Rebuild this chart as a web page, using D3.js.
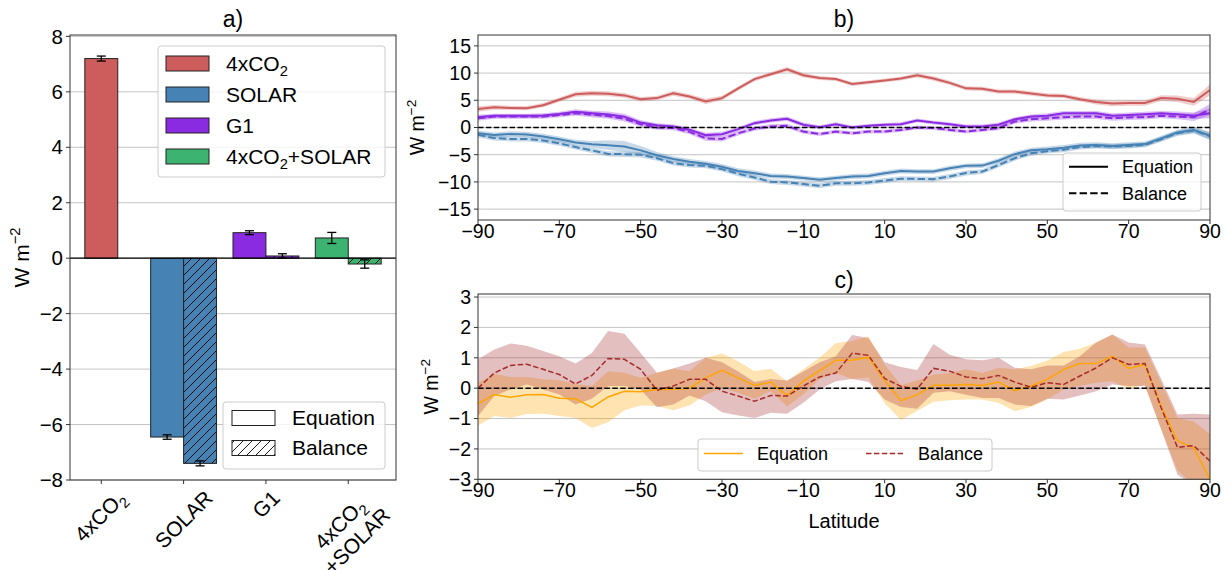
<!DOCTYPE html>
<html><head><meta charset="utf-8">
<script src="https://cdn.jsdelivr.net/npm/d3@7"></script>
<style>
body{margin:0;background:#fff}
svg{display:block}
text{font-family:"Liberation Sans",Arial,Helvetica,sans-serif;fill:#000}
</style>
</head><body>
<svg id="chart" width="1231" height="570"></svg>
<script>
// ---------------- DATA ----------------
// panel a
const barCategories = ["4xCO2", "SOLAR", "G1", "4xCO2+SOLAR"];
const barEquation = [7.2, -6.45, 0.92, 0.73];
const barEquationErr = [0.09, 0.08, 0.07, 0.2];
const barBalance = [null, -7.4, 0.08, -0.21];
const barBalanceErr = [null, 0.09, 0.08, 0.15];
const barYTicks = [-8, -6, -4, -2, 0, 2, 4, 6, 8];

// panels b and c share latitude
const latitude = [-90,-86,-82,-78,-74,-70,-66,-62,-58,-54,-50,-46,-42,-38,-34,-30,
  -26,-22,-18,-14,-10,-6,-2,2,6,10,14,18,22,26,30,
  34,38,42,46,50,54,58,62,66,70,74,78,82,86,90];
const latTicks = [-90,-70,-50,-30,-10,10,30,50,70,90];

// panel b
const co2Equation = [3.4,3.7,3.6,3.55,4.1,5.1,6.1,6.3,6.2,5.9,5.2,5.4,6.3,5.7,4.8,5.4,
  7.2,8.9,9.8,10.7,9.6,9.1,8.9,8.0,8.3,8.65,9.0,9.6,9.0,8.2,7.2,
  7.1,6.6,6.6,6.25,5.9,5.8,5.2,4.7,4.4,4.5,4.5,5.4,5.3,4.7,6.9];
const co2EquationSpread = [0.5,0.45,0.4,0.4,0.4,0.4,0.45,0.45,0.45,0.45,0.4,0.4,0.45,0.4,0.5,0.45,
  0.4,0.4,0.4,0.4,0.4,0.35,0.35,0.35,0.35,0.35,0.35,0.4,0.4,0.4,0.4,
  0.4,0.4,0.4,0.4,0.4,0.4,0.4,0.45,0.5,0.5,0.5,0.55,0.6,0.7,1.0];
const g1Equation = [1.9,2.15,2.15,2.15,2.2,2.5,2.9,2.6,2.4,2.0,0.9,0.4,0.2,-0.4,-1.4,-1.25,
  -0.3,0.8,1.3,1.6,0.5,0.05,0.6,0.0,0.3,0.5,0.6,1.3,0.9,0.6,0.2,
  0.2,0.5,1.5,2.0,2.15,2.6,2.6,2.6,2.15,2.3,2.45,2.6,2.45,2.15,2.6];
const g1EquationSpread = [0.45,0.4,0.4,0.4,0.4,0.4,0.45,0.5,0.55,0.55,0.45,0.4,0.4,0.4,0.45,0.45,
  0.4,0.4,0.4,0.4,0.4,0.35,0.35,0.35,0.35,0.35,0.35,0.35,0.35,0.35,0.35,
  0.35,0.4,0.4,0.4,0.45,0.45,0.45,0.45,0.45,0.45,0.45,0.45,0.5,0.6,0.9];
const g1Balance = [1.7,2.0,2.0,2.0,2.0,2.3,2.6,2.4,2.1,1.6,0.6,0.0,-0.1,-0.8,-2.0,-2.1,
  -1.05,-0.2,0.2,0.3,-0.75,-1.2,-0.75,-1.05,-0.75,-0.75,-0.45,0.0,-0.1,-0.45,-0.75,
  -0.45,-0.1,1.1,1.5,1.7,1.9,2.0,2.0,1.7,1.85,1.9,2.15,2.0,1.9,3.3];
const g1BalanceSpread = [0.45,0.4,0.4,0.4,0.4,0.4,0.45,0.5,0.5,0.5,0.45,0.4,0.4,0.45,0.45,0.45,
  0.4,0.4,0.4,0.4,0.4,0.35,0.35,0.35,0.35,0.35,0.35,0.35,0.35,0.35,0.35,
  0.35,0.4,0.4,0.4,0.45,0.45,0.45,0.45,0.45,0.45,0.45,0.45,0.5,0.7,1.0];
const solarEquation = [-1.05,-1.4,-1.2,-1.3,-1.65,-2.15,-2.75,-3.1,-3.25,-3.5,-4.2,-5.1,-5.8,-6.3,-6.65,-7.2,
  -8.0,-8.4,-8.9,-9.0,-9.3,-9.6,-9.3,-9.0,-8.9,-8.4,-8.0,-8.1,-8.1,-7.5,-7.05,
  -7.0,-6.1,-4.9,-4.2,-4.0,-3.7,-3.3,-3.2,-3.4,-3.2,-3.05,-2.0,-0.9,-0.45,-1.5];
const solarEquationSpread = [0.5,0.5,0.5,0.5,0.5,0.5,0.5,0.6,0.9,1.0,0.8,0.6,0.5,0.5,0.5,0.5,
  0.5,0.5,0.45,0.45,0.45,0.45,0.45,0.45,0.45,0.45,0.45,0.45,0.45,0.45,0.45,
  0.45,0.45,0.5,0.5,0.5,0.5,0.5,0.5,0.5,0.5,0.5,0.5,0.5,0.55,0.7];
const solarBalance = [-1.35,-1.95,-2.1,-2.1,-2.4,-2.9,-3.6,-4.2,-4.85,-4.9,-5.0,-5.65,-6.55,-6.9,-7.05,-7.65,
  -8.5,-9.2,-9.95,-10.1,-10.4,-10.7,-10.25,-10.25,-10.1,-9.75,-9.4,-9.45,-9.5,-9.0,-8.35,
  -8.1,-6.9,-5.65,-4.75,-4.35,-4.1,-3.6,-3.4,-3.5,-3.4,-3.2,-2.15,-1.05,-0.55,-1.6];
const solarBalanceSpread = [0.5,0.45,0.45,0.45,0.45,0.45,0.45,0.5,0.5,0.5,0.5,0.45,0.45,0.45,0.45,0.45,
  0.45,0.45,0.45,0.45,0.45,0.45,0.45,0.45,0.45,0.45,0.45,0.45,0.45,0.45,0.45,
  0.45,0.45,0.45,0.45,0.45,0.45,0.45,0.45,0.45,0.45,0.45,0.45,0.5,0.55,0.7];
const bYTicks = [-15, -10, -5, 0, 5, 10, 15];

// panel c
const diffEquation = [-0.52,-0.21,-0.3,-0.22,-0.21,-0.33,-0.35,-0.63,-0.29,-0.1,-0.12,-0.04,-0.04,0.0,0.34,0.59,
  0.34,0.09,0.2,-0.24,0.23,0.58,0.92,0.92,1.02,0.25,-0.41,-0.22,0.1,0.1,0.12,
  0.09,0.2,-0.08,0.07,0.29,0.62,0.81,0.81,1.05,0.65,0.78,-0.6,-1.73,-1.97,-3.0];
const diffEquationUpper = [0.18,0.47,0.37,0.37,0.29,0.26,0.14,0.07,0.56,0.51,0.34,0.51,0.65,0.56,1.0,1.14,
  0.89,0.56,0.64,0.23,0.62,1.0,1.49,1.55,1.71,0.78,0.1,0.25,0.45,0.5,0.62,
  0.5,0.67,0.62,0.73,0.91,1.19,1.3,1.5,1.77,1.34,1.34,0.18,-0.98,-1.1,-1.5];
const diffEquationLower = [-1.23,-0.92,-0.98,-0.85,-0.84,-0.92,-0.98,-1.31,-1.12,-0.73,-0.57,-0.59,-0.73,-0.57,-0.21,0.0,
  -0.15,-0.35,-0.1,-0.6,-0.2,0.3,0.5,0.3,0.35,-0.5,-1.05,-0.75,-0.45,-0.4,-0.37,
  -0.37,-0.48,-0.76,-0.62,-0.37,-0.04,0.07,0.18,0.23,-0.04,0.12,-1.36,-2.7,-3.2,-3.3];
const diffBalance = [0.0,0.5,0.75,0.79,0.62,0.45,0.14,0.42,0.98,0.95,0.62,-0.07,0.07,0.29,0.29,-0.1,
  -0.26,-0.43,-0.24,-0.26,0.07,0.37,0.5,1.15,1.08,0.32,0.06,-0.03,0.65,0.56,0.37,
  0.31,0.42,0.2,0.03,0.18,0.12,0.4,0.67,1.0,0.78,0.81,-0.65,-1.95,-1.89,-2.4];
const diffBalanceUpper = [0.95,1.27,1.47,1.4,1.22,1.05,0.81,1.16,1.88,1.79,1.16,0.51,0.65,0.81,1.0,0.85,
  0.55,0.2,0.3,0.25,0.55,0.85,1.05,1.75,1.65,0.85,0.7,0.6,1.45,1.1,0.95,
  0.92,1.0,0.67,0.62,0.75,0.75,1.05,1.5,1.77,1.5,1.44,0.3,-0.87,-0.84,-0.87];
const diffBalanceLower = [-0.92,-0.26,-0.04,0.12,-0.04,-0.21,-0.54,-0.35,0.07,0.07,-0.04,-0.63,-0.54,-0.24,-0.43,-0.79,
  -0.9,-0.98,-0.81,-0.84,-0.48,-0.04,0.23,0.3,0.2,-0.37,-0.62,-0.68,-0.15,-0.1,-0.22,
  -0.32,-0.32,-0.54,-0.59,-0.35,-0.37,-0.24,-0.1,0.12,0.07,0.07,-1.36,-2.85,-3.2,-3.2];
const cYTicks = [-3, -2, -1, 0, 1, 2, 3];

// ---------------- STYLE ----------------
const colors = {"4xCO2": "#cd5c5c", "SOLAR": "#4682b4", "G1": "#8a2be2", "4xCO2+SOLAR": "#3cb371"};
const orange = "#ffa500", brown = "#a52a2a";
const frameColor = "#333", gridColor = "#c4c4c4";
const minus = v => (v < 0 ? "\u2212" + Math.abs(v) : String(v));

const svg = d3.select("#chart");
const defs = svg.append("defs");
const hatch = defs.append("pattern").attr("id", "hatch").attr("patternUnits", "userSpaceOnUse")
  .attr("width", 9).attr("height", 9);
hatch.append("path").attr("d", "M-2,2 L2,-2 M0,9 L9,0 M7,11 L11,7")
  .attr("stroke", "#000").attr("stroke-width", 0.9);

// helper: label with CO2 subscripts
function richText(sel, str, fs) {
  const parts = str.split("CO2");
  let shift = 0;
  parts.forEach((p, i) => {
    if (p) { sel.append("tspan").attr("dy", shift ? -shift : null).text(p); shift = 0; }
    if (i < parts.length - 1) {
      sel.append("tspan").attr("dy", shift ? -shift : null).text("CO");
      shift = fs * 0.25;
      sel.append("tspan").attr("font-size", fs * 0.7).attr("dy", shift).text("2");
    }
  });
}
function yLabel(g, x, y, fs) {
  const t = g.append("text").attr("transform", `translate(${x},${y}) rotate(-90)`)
    .attr("text-anchor", "middle").attr("font-size", fs);
  t.append("tspan").text("W m");
  t.append("tspan").attr("font-size", fs * 0.7).attr("dy", -fs * 0.42).text("\u22122");
}
function yAxisGrid(g, y, ticks, x0, x1) {
  ticks.forEach(v => {
    g.append("line").attr("x1", x0).attr("x2", x1).attr("y1", y(v)).attr("y2", y(v))
      .attr("stroke", gridColor).attr("stroke-width", 1);
  });
}
function yAxisTicks(g, y, ticks, x0, fs) {
  ticks.forEach(v => {
    g.append("line").attr("x1", x0 - 4).attr("x2", x0).attr("y1", y(v)).attr("y2", y(v))
      .attr("stroke", frameColor).attr("stroke-width", 1);
    g.append("text").attr("x", x0 - 7).attr("y", y(v)).attr("dy", "0.35em")
      .attr("text-anchor", "end").attr("font-size", fs).text(minus(v));
  });
}
function frame(g, x0, x1, y0, y1) {
  g.append("rect").attr("x", x0).attr("y", y0).attr("width", x1 - x0).attr("height", y1 - y0)
    .attr("fill", "none").attr("stroke", frameColor).attr("stroke-width", 1);
}

// ---------------- PANEL A ----------------
(function () {
  const L = 70, R = 396, T = 35, B = 480, fs = 20.5, lfs = 21;
  const g = svg.append("g");
  const x = d3.scaleLinear().domain([-0.38, 3.58]).range([L, R]);
  const y = d3.scaleLinear().domain([-8, 8.05]).range([B, T]);
  yAxisGrid(g, y, barYTicks, L, R);
  const w = 0.4;
  barCategories.forEach((c, i) => {
    const eqX0 = i === 0 ? i - w / 2 : i - w;
    const bars = [{x0: eqX0, v: barEquation[i], e: barEquationErr[i], h: false}];
    if (barBalance[i] !== null) bars.push({x0: i, v: barBalance[i], e: barBalanceErr[i], h: true});
    bars.forEach(b => {
      const rx = x(b.x0), rw = x(b.x0 + w) - x(b.x0);
      const ry = y(Math.max(0, b.v)), rh = Math.abs(y(b.v) - y(0));
      g.append("rect").attr("x", rx).attr("y", ry).attr("width", rw).attr("height", rh)
        .attr("fill", colors[c]);
      if (b.h) g.append("rect").attr("x", rx).attr("y", ry).attr("width", rw).attr("height", rh)
        .attr("fill", "url(#hatch)");
      g.append("rect").attr("x", rx).attr("y", ry).attr("width", rw).attr("height", rh)
        .attr("fill", "none").attr("stroke", "#222").attr("stroke-width", 1);
      const cx = x(b.x0 + w / 2);
      g.append("line").attr("x1", cx).attr("x2", cx).attr("y1", y(b.v - b.e)).attr("y2", y(b.v + b.e))
        .attr("stroke", "#000").attr("stroke-width", 1.3);
      [b.v - b.e, b.v + b.e].forEach(v => g.append("line").attr("x1", cx - 4.5).attr("x2", cx + 4.5)
        .attr("y1", y(v)).attr("y2", y(v)).attr("stroke", "#000").attr("stroke-width", 1.3));
    });
  });
  g.append("line").attr("x1", L).attr("x2", R).attr("y1", y(0)).attr("y2", y(0))
    .attr("stroke", "#000").attr("stroke-width", 1.3);
  frame(g, L, R, T, B);
  yAxisTicks(g, y, barYTicks, L, fs);
  // x ticks and rotated labels
  barCategories.forEach((c, i) => {
    g.append("line").attr("x1", x(i)).attr("x2", x(i)).attr("y1", B).attr("y2", B + 4)
      .attr("stroke", frameColor);
    const lab = g.append("g");
    const lines = c === "4xCO2+SOLAR" ? ["4xCO2", "+SOLAR"] : [c];
    const t = lab.append("text").attr("font-size", lfs).attr("text-anchor", "middle");
    lines.forEach((ln, k) => {
      const tl = t.append("tspan").attr("x", 0).attr("y", k * lfs * 1.15);
      richText(tl, ln, lfs);
    });
    const bb = t.node().getBBox();
    const cx = bb.x + bb.width / 2, cy = bb.y + bb.height / 2;
    const half = (bb.width + bb.height) / (2 * Math.SQRT2);
    lab.attr("transform", `translate(${x(i)},${B + 6 + half}) rotate(-45) translate(${-cx},${-cy})`);
  });
  yLabel(g, 29, (T + B) / 2, lfs);
  g.append("text").attr("x", (L + R) / 2).attr("y", 27).attr("text-anchor", "middle")
    .attr("font-size", 23).text("a)");
  // legend 1
  const lg = g.append("g");
  lg.append("rect").attr("x", 158).attr("y", 46).attr("width", 227).attr("height", 131).attr("rx", 3)
    .attr("fill", "#fff").attr("fill-opacity", 0.8).attr("stroke", "#ccc");
  barCategories.forEach((c, i) => {
    const yy = 63.5 + i * 31;
    lg.append("rect").attr("x", 166).attr("y", yy - 7.5).attr("width", 43).attr("height", 15)
      .attr("fill", colors[c]).attr("stroke", "#222").attr("stroke-width", 1);
    const t = lg.append("text").attr("x", 226).attr("y", yy).attr("dy", "0.35em").attr("font-size", lfs);
    richText(t, c, lfs);
  });
  // legend 2
  const lg2 = g.append("g");
  lg2.append("rect").attr("x", 223).attr("y", 402).attr("width", 162).attr("height", 67).attr("rx", 3)
    .attr("fill", "#fff").attr("fill-opacity", 0.8).attr("stroke", "#ccc");
  [["Equation", false], ["Balance", true]].forEach(([name, h], i) => {
    const yy = 418 + i * 30;
    lg2.append("rect").attr("x", 232).attr("y", yy - 7.5).attr("width", 43).attr("height", 15)
      .attr("fill", h ? "url(#hatch)" : "#fff").attr("stroke", "#222").attr("stroke-width", 1);
    lg2.append("text").attr("x", 292).attr("y", yy).attr("dy", "0.35em").attr("font-size", lfs).text(name);
  });
})();

// ---------------- PANELS B and C common ----------------
const PL = 478, PR = 1210;
const xLat = d3.scaleLinear().domain([-90, 90]).range([PL, PR]);
function xLatAxis(g, B, fs) {
  latTicks.forEach(v => {
    g.append("line").attr("x1", xLat(v)).attr("x2", xLat(v)).attr("y1", B).attr("y2", B + 4)
      .attr("stroke", frameColor);
    g.append("text").attr("x", xLat(v)).attr("y", B + 18).attr("text-anchor", "middle")
      .attr("font-size", fs).text(minus(v));
  });
}

// ---------------- PANEL B ----------------
(function () {
  const T = 35, B = 220, fs = 19.5;
  const g = svg.append("g");
  const y = d3.scaleLinear().domain([-17, 17]).range([B, T]);
  defs.append("clipPath").attr("id", "clipB").append("rect")
    .attr("x", PL).attr("y", T).attr("width", PR - PL).attr("height", B - T);
  yAxisGrid(g, y, bYTicks, PL, PR);
  const series = [
    {v: co2Equation, s: co2EquationSpread, c: colors["4xCO2"], dash: null},
    {v: solarEquation, s: solarEquationSpread, c: colors["SOLAR"], dash: null},
    {v: solarBalance, s: solarBalanceSpread, c: colors["SOLAR"], dash: "7.4,3.2"},
    {v: g1Equation, s: g1EquationSpread, c: colors["G1"], dash: null},
    {v: g1Balance, s: g1BalanceSpread, c: colors["G1"], dash: "7.4,3.2"}
  ];
  const pg = g.append("g").attr("clip-path", "url(#clipB)");
  series.forEach(sr => {
    const area = d3.area().x((d, i) => xLat(latitude[i]))
      .y0((d, i) => y(sr.v[i] - sr.s[i])).y1((d, i) => y(sr.v[i] + sr.s[i]));
    pg.append("path").attr("d", area(sr.v)).attr("fill", sr.c).attr("fill-opacity", 0.3);
  });
  series.forEach(sr => {
    const line = d3.line().x((d, i) => xLat(latitude[i])).y(d => y(d));
    pg.append("path").attr("d", line(sr.v)).attr("fill", "none").attr("stroke", sr.c)
      .attr("stroke-width", 2).attr("stroke-dasharray", sr.dash);
  });
  pg.append("line").attr("x1", PL).attr("x2", PR).attr("y1", y(0)).attr("y2", y(0))
    .attr("stroke", "#000").attr("stroke-width", 1.5).attr("stroke-dasharray", "5.5,2.4");
  frame(g, PL, PR, T, B);
  yAxisTicks(g, y, bYTicks, PL, fs);
  xLatAxis(g, B, fs);
  yLabel(g, 424, (T + B) / 2, fs);
  g.append("text").attr("x", (PL + PR) / 2).attr("y", 27).attr("text-anchor", "middle")
    .attr("font-size", 23).text("b)");
  const lg = g.append("g");
  lg.append("rect").attr("x", 1063).attr("y", 153).attr("width", 138).attr("height", 58).attr("rx", 3)
    .attr("fill", "#fff").attr("fill-opacity", 0.8).attr("stroke", "#ccc");
  [["Equation", null], ["Balance", "7.4,3.2"]].forEach(([name, dash], i) => {
    const yy = 166.7 + i * 26.6;
    lg.append("line").attr("x1", 1069).attr("x2", 1108).attr("y1", yy).attr("y2", yy)
      .attr("stroke", "#000").attr("stroke-width", 2).attr("stroke-dasharray", dash);
    lg.append("text").attr("x", 1122).attr("y", yy).attr("dy", "0.35em").attr("font-size", 18).text(name);
  });
})();

// ---------------- PANEL C ----------------
(function () {
  const T = 294, B = 479.3, fs = 19.5;
  const g = svg.append("g");
  const y = d3.scaleLinear().domain([-3, 3.1]).range([B, T]);
  defs.append("clipPath").attr("id", "clipC").append("rect")
    .attr("x", PL).attr("y", T).attr("width", PR - PL).attr("height", B - T);
  yAxisGrid(g, y, cYTicks, PL, PR);
  const pg = g.append("g").attr("clip-path", "url(#clipC)");
  const areaE = d3.area().x((d, i) => xLat(latitude[i]))
    .y0((d, i) => y(diffEquationLower[i])).y1((d, i) => y(diffEquationUpper[i]));
  const areaB = d3.area().x((d, i) => xLat(latitude[i]))
    .y0((d, i) => y(diffBalanceLower[i])).y1((d, i) => y(diffBalanceUpper[i]));
  pg.append("path").attr("d", areaE(latitude)).attr("fill", orange).attr("fill-opacity", 0.3);
  pg.append("path").attr("d", areaB(latitude)).attr("fill", brown).attr("fill-opacity", 0.3);
  const line = d3.line().x((d, i) => xLat(latitude[i])).y(d => y(d));
  pg.append("path").attr("d", line(diffEquation)).attr("fill", "none").attr("stroke", orange)
    .attr("stroke-width", 1.5);
  pg.append("path").attr("d", line(diffBalance)).attr("fill", "none").attr("stroke", brown)
    .attr("stroke-width", 1.5).attr("stroke-dasharray", "5.5,2.4");
  pg.append("line").attr("x1", PL).attr("x2", PR).attr("y1", y(0)).attr("y2", y(0))
    .attr("stroke", "#000").attr("stroke-width", 1.5).attr("stroke-dasharray", "5.5,2.4");
  frame(g, PL, PR, T, B);
  yAxisTicks(g, y, cYTicks, PL, fs);
  xLatAxis(g, B, fs);
  yLabel(g, 438, (T + B) / 2, fs);
  g.append("text").attr("x", (PL + PR) / 2).attr("y", 288).attr("text-anchor", "middle")
    .attr("font-size", 23).text("c)");
  g.append("text").attr("x", (PL + PR) / 2).attr("y", 528).attr("text-anchor", "middle")
    .attr("font-size", 20).text("Latitude");
  const lg = g.append("g");
  lg.append("rect").attr("x", 698).attr("y", 439).attr("width", 294).attr("height", 32).attr("rx", 3)
    .attr("fill", "#fff").attr("fill-opacity", 0.8).attr("stroke", "#ccc");
  lg.append("line").attr("x1", 704).attr("x2", 743).attr("y1", 453.5).attr("y2", 453.5)
    .attr("stroke", orange).attr("stroke-width", 1.5);
  lg.append("text").attr("x", 757).attr("y", 453.5).attr("dy", "0.35em").attr("font-size", 18).text("Equation");
  lg.append("line").attr("x1", 866).attr("x2", 903).attr("y1", 453.5).attr("y2", 453.5)
    .attr("stroke", brown).attr("stroke-width", 1.5).attr("stroke-dasharray", "5.5,2.4");
  lg.append("text").attr("x", 918).attr("y", 453.5).attr("dy", "0.35em").attr("font-size", 18).text("Balance");
})();
</script>
</body></html>
